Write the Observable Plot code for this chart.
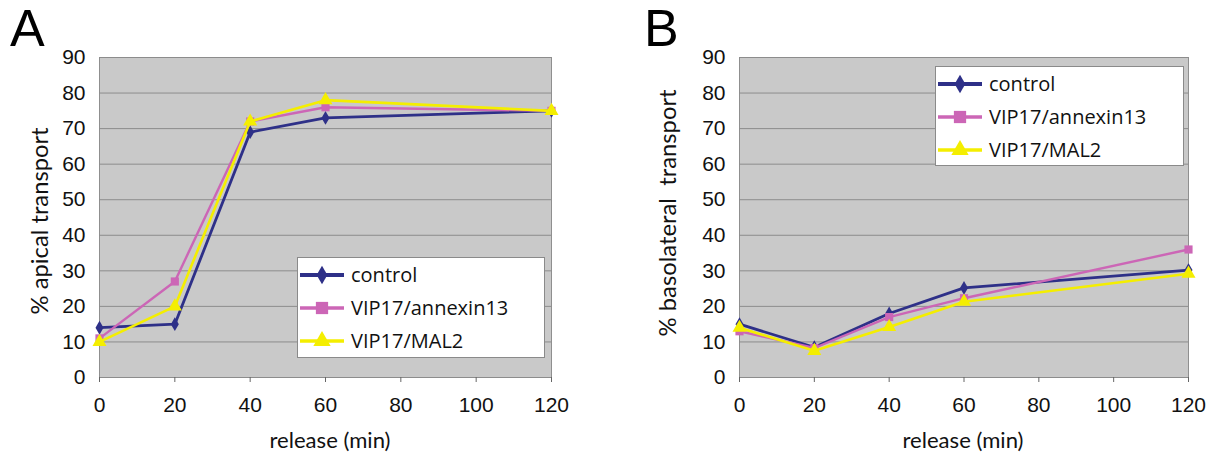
<!DOCTYPE html>
<html>
<head>
<meta charset="utf-8">
<script src="https://cdn.jsdelivr.net/npm/d3@7"></script>
<script src="https://cdn.jsdelivr.net/npm/@observablehq/plot@0.6"></script>
<style>
  html, body { margin: 0; padding: 0; background: #fff; }
  #wrap { position: relative; width: 1216px; height: 456px; overflow: hidden; }
  .panel { position: absolute; top: 0; }
  .letter { position: absolute; font-family: "Liberation Sans", Arial, sans-serif; font-size: 52px; color: #000; line-height: 1; }
  .legend { position: absolute; background: #fff; border: 1px solid #8a8a8a; box-sizing: border-box; font-family: "Open Sans", "Noto Sans", sans-serif; font-size: 20px; color: #111; }
  .legend .row { display: flex; align-items: center; height: 33px; }
  .legend svg { margin-left: 2px; margin-right: 7px; }
  .alabel { position: absolute; white-space: pre; font-family: Lato, "Open Sans", sans-serif; color: #111; line-height: 1; font-size: 20px; }
</style>
</head>
<body>
<div id="wrap">
  <div class="panel" id="panelA" style="left:0"></div>
  <div class="panel" id="panelB" style="left:608px"></div>
  <div class="letter" style="left:10px;top:2px">A</div>
  <div class="letter" style="left:644px;top:2px">B</div>
  <div class="legend" id="legA" style="left:297px;top:257px;width:248px;height:101px"></div>
  <div class="legend" id="legB" style="left:935px;top:66px;width:249px;height:100px"></div>
</div>
<script>
// ---- data ----
const times = [0, 20, 40, 60, 120];
const seriesNames = ["control", "VIP17/annexin13", "VIP17/MAL2"];
const seriesColors = ["#2e3088", "#cc66b6", "#f4ee00"];
const seriesSymbols = ["diamond", "square", "triangle"];
const xTicks = [0, 20, 40, 60, 80, 100, 120];
const yTicks = [0, 10, 20, 30, 40, 50, 60, 70, 80, 90];
const xLabel = "release (min)";
const yLabelA = "% apical transport";
const yLabelB = "% basolateral  transport";

const apicalControl = [14, 15, 69, 73, 75];
const apicalAnnexin = [11, 27, 72, 76, 75];
const apicalMal2 = [10, 20, 72, 78, 75];

const basoControl = [15, 8.5, 18, 25.2, 30.2];
const basoAnnexin = [13, 8.3, 17, 22.3, 36];
const basoMal2 = [14, 7.5, 14.2, 21.3, 29.2];

function toRows(lists) {
  const rows = [];
  lists.forEach((vals, si) => {
    vals.forEach((v, i) => rows.push({ series: seriesNames[si], t: times[i], v }));
  });
  return rows;
}

const sizes = { control: 4.2, "VIP17/annexin13": 4.6, "VIP17/MAL2": 5.2 };
const widths = { control: 2.8, "VIP17/annexin13": 2.4, "VIP17/MAL2": 2.6 };

function panel(rows, margins) {
  const marks = [
    Plot.frame({ fill: "#c9c9c9", stroke: "#8f8f8f" }),
    Plot.gridY(yTicks, { stroke: "#8c8c8c", strokeOpacity: 1, strokeWidth: 1 }),
    Plot.axisX(xTicks, { tickSize: 5, tickPadding: 15, stroke: "#666", fontSize: 21, fill: "#111", label: null }),
    Plot.axisY(yTicks, { tickSize: 0, tickPadding: 14, fontSize: 21, fill: "#111", label: null })
  ];
  seriesNames.forEach((name, si) => {
    const d = rows.filter(r => r.series === name);
    marks.push(Plot.line(d, { x: "t", y: "v", stroke: seriesColors[si], strokeWidth: widths[name] }));
    marks.push(Plot.dot(d, { x: "t", y: "v", symbol: seriesSymbols[si], fill: seriesColors[si], r: sizes[name] }));
  });
  return Plot.plot({
    width: 608, height: 456,
    marginLeft: margins.left, marginRight: margins.right, marginTop: 57, marginBottom: 79,
    style: { fontFamily: "Liberation Sans, Arial, sans-serif", fontSize: "21px", background: "transparent" },
    x: { domain: [0, 120] },
    y: { domain: [0, 90] },
    marks
  });
}

const a = panel(toRows([apicalControl, apicalAnnexin, apicalMal2]), { left: 99, right: 57 });
const b = panel(toRows([basoControl, basoAnnexin, basoMal2]), { left: 131, right: 28 });
document.getElementById("panelA").appendChild(a);
document.getElementById("panelB").appendChild(b);

// axis titles (real text), sized to the reference's length
const wrap = document.getElementById("wrap");
function axisTitle(text, cx, cy, length, rotate) {
  const el = document.createElement("div");
  el.className = "alabel";
  el.textContent = text;
  wrap.appendChild(el);
  const w = el.getBoundingClientRect().width;
  el.style.fontSize = (20 * length / w).toFixed(2) + "px";
  const r = el.getBoundingClientRect();
  el.style.left = (cx - r.width / 2) + "px";
  el.style.top = (cy - r.height / 2) + "px";
  if (rotate) { el.style.transformOrigin = "50% 50%"; el.style.transform = "rotate(-90deg)"; }
}
axisTitle(xLabel, 330, 440, 121, false);
axisTitle(xLabel, 963, 440, 121, false);
axisTitle(yLabelA, 39, 221, 187, true);
axisTitle(yLabelB, 667, 213, 247, true);

function legend(el) {
  seriesNames.forEach((name, si) => {
    const row = document.createElement("div");
    row.className = "row";
    const sym = d3.symbol(
      si === 0 ? d3.symbolDiamond : si === 1 ? d3.symbolSquare : d3.symbolTriangle,
      si === 0 ? 100 : si === 1 ? 150 : 130
    )();
    row.innerHTML = `<svg width="44" height="22"><line x1="0" x2="44" y1="11" y2="11" stroke="${seriesColors[si]}" stroke-width="${si === 0 ? 4 : 3.5}"/><path d="${sym}" transform="translate(22,11)" fill="${seriesColors[si]}"/></svg><span>${name}</span>`;
    el.appendChild(row);
  });
}
legend(document.getElementById("legA"));
legend(document.getElementById("legB"));
</script>
</body>
</html>
